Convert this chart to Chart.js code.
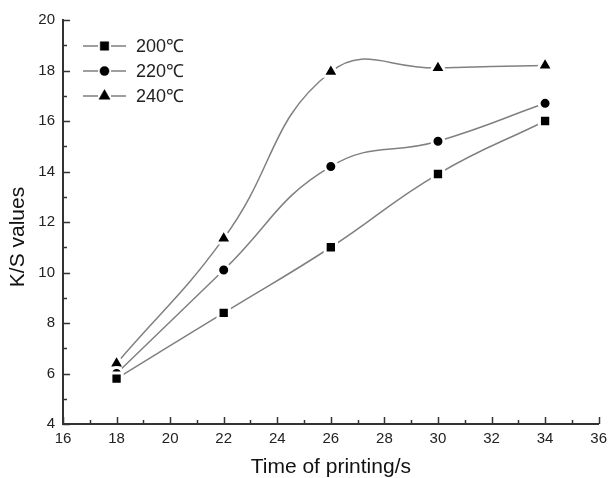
<!DOCTYPE html>
<html><head><meta charset="utf-8">
<script src="https://cdn.jsdelivr.net/npm/chart.js@4/dist/chart.umd.min.js"></script>
<style>html,body{margin:0;padding:0;background:#fff}#wrap{width:613px;height:478px}</style>
</head><body><div id="wrap"><canvas id="c"></canvas></div>
<script>
const times = [18, 22, 26, 30, 34];
const ks200 = [5.8, 8.4, 11.0, 13.9, 16.0];
const ks220 = [6.0, 10.1, 14.2, 15.2, 16.7];
const ks240 = [6.4, 11.35, 17.95, 18.1, 18.2];
const seriesLabels = ['200℃', '220℃', '240℃'];
const xTicks = [16, 36, 2];
const yTicks = [4, 20, 2];
const yTitle = 'K/S values';
const xTitle = 'Time of printing/s';

const FONT = "'Liberation Sans', Arial, sans-serif";
const AXIS = '#333333';
const LINE = '#808080';
const HALO = 3;

function pts(ys){ return times.map((t,i)=>({x:t,y:ys[i]})); }
function ds(label, ys, style, r, lr){
  return {label, data: pts(ys), borderColor: LINE, borderWidth: 1.5, tension: 0.45,
    pointStyle: style, pointRadius: r, pointBackgroundColor: '#000', pointBorderColor: '#fff',
    pointBorderWidth: HALO, pointHoverRadius: r, legendRadius: lr};
}

const inward = {
  id: 'inward',
  afterDraw(chart){
    const ctx = chart.ctx, xs = chart.scales.x, ys = chart.scales.y;
    const ca = chart.chartArea;
    ctx.save();
    ctx.strokeStyle = AXIS; ctx.lineWidth = 1.5;
    for (let v = xTicks[0]; v <= xTicks[1]; v++) {
      const px = Math.round(xs.getPixelForValue(v)) + 0.5;
      const len = (v % 2 === 0) ? 7 : 4;
      ctx.beginPath(); ctx.moveTo(px, ca.bottom); ctx.lineTo(px, ca.bottom - len); ctx.stroke();
    }
    for (let v = yTicks[0]; v <= yTicks[1]; v++) {
      const py = Math.round(ys.getPixelForValue(v)) + 0.5;
      const len = (v % 2 === 0) ? 7 : 4;
      ctx.beginPath(); ctx.moveTo(ca.left, py); ctx.lineTo(ca.left + len, py); ctx.stroke();
    }
    // y title (slightly below axis centre, as in the reference)
    ctx.save();
    ctx.translate(18, (ca.top + ca.bottom) / 2 + 15);
    ctx.rotate(-Math.PI / 2);
    ctx.fillStyle = '#111'; ctx.font = "21px " + FONT; ctx.textAlign = 'center'; ctx.textBaseline = 'middle';
    ctx.fillText(yTitle, 0, 0);
    ctx.restore();
    const dsets = chart.data.datasets;
    dsets.forEach((d, i) => {
      const y = 46 + i * 25;
      ctx.strokeStyle = LINE; ctx.lineWidth = 1.5;
      ctx.beginPath(); ctx.moveTo(83, y); ctx.lineTo(98, y); ctx.moveTo(111, y); ctx.lineTo(126, y); ctx.stroke();
      ctx.fillStyle = '#000'; ctx.strokeStyle = '#000'; ctx.lineWidth = 0.5;
      Chart.helpers.drawPoint(ctx, {pointStyle: d.pointStyle, radius: d.legendRadius, rotation: 0, borderWidth: 0.5}, 104.5, y);
      ctx.fillStyle = '#222'; ctx.font = "18px " + FONT; ctx.textBaseline = 'middle'; ctx.textAlign = 'left';
      ctx.fillText(d.label, 136, y + 1);
    });
    ctx.restore();
  }
};

new Chart(document.getElementById('c'), {
  type: 'line',
  data: { datasets: [
    ds(seriesLabels[0], ks200, 'rect', 8, 6),
    ds(seriesLabels[1], ks220, 'circle', 6, 4.6),
    ds(seriesLabels[2], ks240, 'triangle', 9.2, 6.4)
  ]},
  options: {
    responsive: true, maintainAspectRatio: false, animation: false,
    layout: { padding: { top: 20, right: 10, left: 0, bottom: 0 } },
    plugins: { legend: { display: false }, tooltip: { enabled: false } },
    scales: {
      x: { type: 'linear', min: xTicks[0], max: xTicks[1],
        ticks: { stepSize: xTicks[2], color: '#222', font: { family: FONT, size: 15 }, padding: 6, maxRotation: 0 },
        grid: { display: true, drawOnChartArea: false, drawTicks: false },
        border: { color: AXIS, width: 2 },
        title: { display: true, text: xTitle, color: '#111', font: { family: FONT, size: 21, lineHeight: 1.0 }, padding: { top: 9, bottom: 0 } },
        afterFit(s){ s.height = 54; } },
      y: { min: yTicks[0], max: yTicks[1],
        ticks: { stepSize: yTicks[2], color: '#222', font: { family: FONT, size: 15 }, padding: 8 },
        grid: { display: true, drawOnChartArea: false, drawTicks: false },
        border: { color: AXIS, width: 2 },
        title: { display: false },
        afterFit(s){ s.width = 63; } }
    }
  },
  plugins: [inward]
});
</script></body></html>
